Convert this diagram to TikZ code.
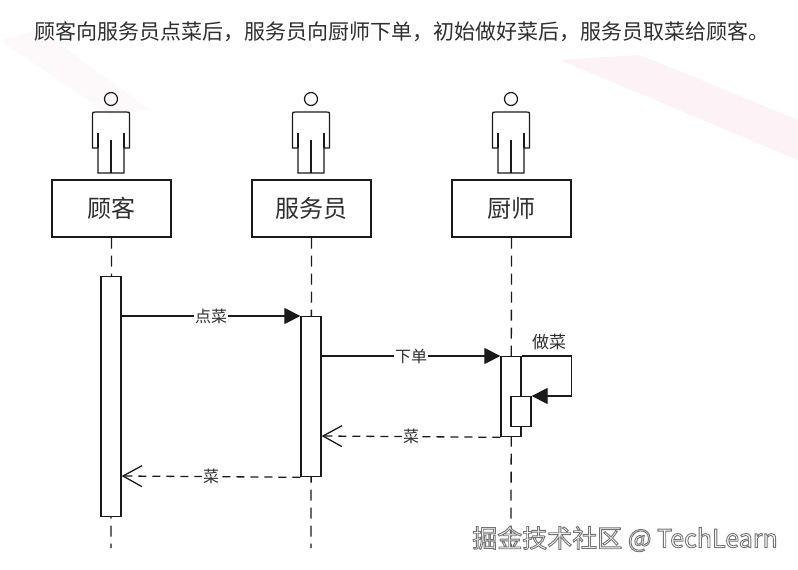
\documentclass[tikz,border=0pt]{standalone}
\usepackage{fontspec}
\newfontfamily\cjk{Noto Sans CJK SC}
\usetikzlibrary{arrows.meta}
\definecolor{ink}{HTML}{1A1A1A}
\definecolor{txt}{HTML}{2E2E2E}
\definecolor{streak}{HTML}{FDF2F5}
\tikzset{
  actorbox/.style={draw=ink, line width=1.3pt, minimum width=119pt, minimum height=57pt, inner sep=0pt,
    font=\cjk\fontsize{24}{26}\selectfont, text=txt},
  actbar/.style={draw=ink, fill=white, line width=1.3pt, minimum width=20pt, inner sep=0pt, anchor=north},
  lifeline/.style={draw=ink, line width=1.3pt, dash pattern=on 11pt off 7pt},
  msg/.style={draw=ink, line width=1.3pt, -{Triangle[length=16pt,width=16pt]}},
  reply/.style={draw=ink, line width=1.3pt, dash pattern=on 8pt off 6pt, -{Straight Barb[length=19pt,width=21pt]}},
  msglabel/.style={fill=white, inner sep=1pt, font=\cjk\fontsize{16}{18}\selectfont, text=txt},
  actorfig/.pic={
    \draw[ink, line width=1.2pt] (0,0) circle[radius=6.5pt];
    \draw[ink, line width=1.2pt] (-13,74) -- (-13,49) -- (-18.5,49) -- (-18.5,16)
      .. controls (-18.5,13) .. (-15.5,13) -- (15.5,13)
      .. controls (18.5,13) .. (18.5,16) -- (18.5,49) -- (13,49) -- (13,74) -- cycle;
    \draw[ink, line width=1.2pt] (-13,34) -- (-13,49) (13,34) -- (13,49) (0,41) -- (0,74);
  }
}
\begin{document}
\begin{tikzpicture}[x=1pt,y=-1pt]
\useasboundingbox[fill=white] (0,0) rectangle (798,570);
% faint background streaks
\fill[streak] (560,60) -- (640,55) -- (798,120) -- (798,160) -- cycle;
\fill[streak, opacity=0.5] (0,40) -- (40,30) -- (150,110) -- (110,115) -- cycle;

\node[anchor=west, font=\cjk\fontsize{21}{24}\selectfont, text=txt] (title) at (31,32)
  {顾客向服务员点菜后，服务员向厨师下单，初始做好菜后，服务员取菜给顾客。};

% actors
\pic at (111,99) {actorfig};
\pic at (311,99) {actorfig};
\pic at (511,99) {actorfig};
\node[actorbox] (b1) at (111.5,208.5) {顾客};
\node[actorbox] (b2) at (311.5,208.5) {服务员};
\node[actorbox] (b3) at (511.5,208.5) {厨师};

% lifelines
\coordinate (e1) at (111,548);
\coordinate (e2) at (311,548);
\coordinate (e3) at (511,548);
\draw[lifeline] (b1.south) -- (e1);
\draw[lifeline] (b2.south) -- (e2);
\draw[lifeline] (b3.south) -- (e3);

% activation bars
\node[actbar, minimum height=240pt] (a1) at (111,276) {};
\node[actbar, minimum height=160pt] (a2) at (311,316) {};
\node[actbar, minimum height=80pt] (a3) at (511,356) {};
\node[actbar, minimum height=30pt] (a3b) at (521,396) {};

% messages
\draw[msg] ([yshift=-40pt]a1.north east) -- node[msglabel]{点菜} (a2.north west);
\draw[msg] ([yshift=-40pt]a2.north east) -- node[msglabel]{下单} (a3.north west);
\draw[msg] (a3.north east) -- ++(50,0) |- (a3b.north east);
\node[msglabel, fill=none, anchor=south, font=\cjk\fontsize{17}{19}\selectfont] (lbl) at (549,351) {做菜};
\draw[reply] (a3.south west) -- node[msglabel]{菜} ([yshift=-120pt]a2.north east);
\draw[reply] (a2.south west) -- node[msglabel]{菜} ([yshift=-200pt]a1.north east);

% watermark: white text with grey outline
\node[font=\cjk\fontsize{25}{27}\selectfont, text=white] (wm) at (625,539)
  {\special{pdf:code 2 Tr 0.9 w 0.45 G}掘金技术社区 @ TechLearn\special{pdf:code 0 Tr}};
\end{tikzpicture}
\end{document}
